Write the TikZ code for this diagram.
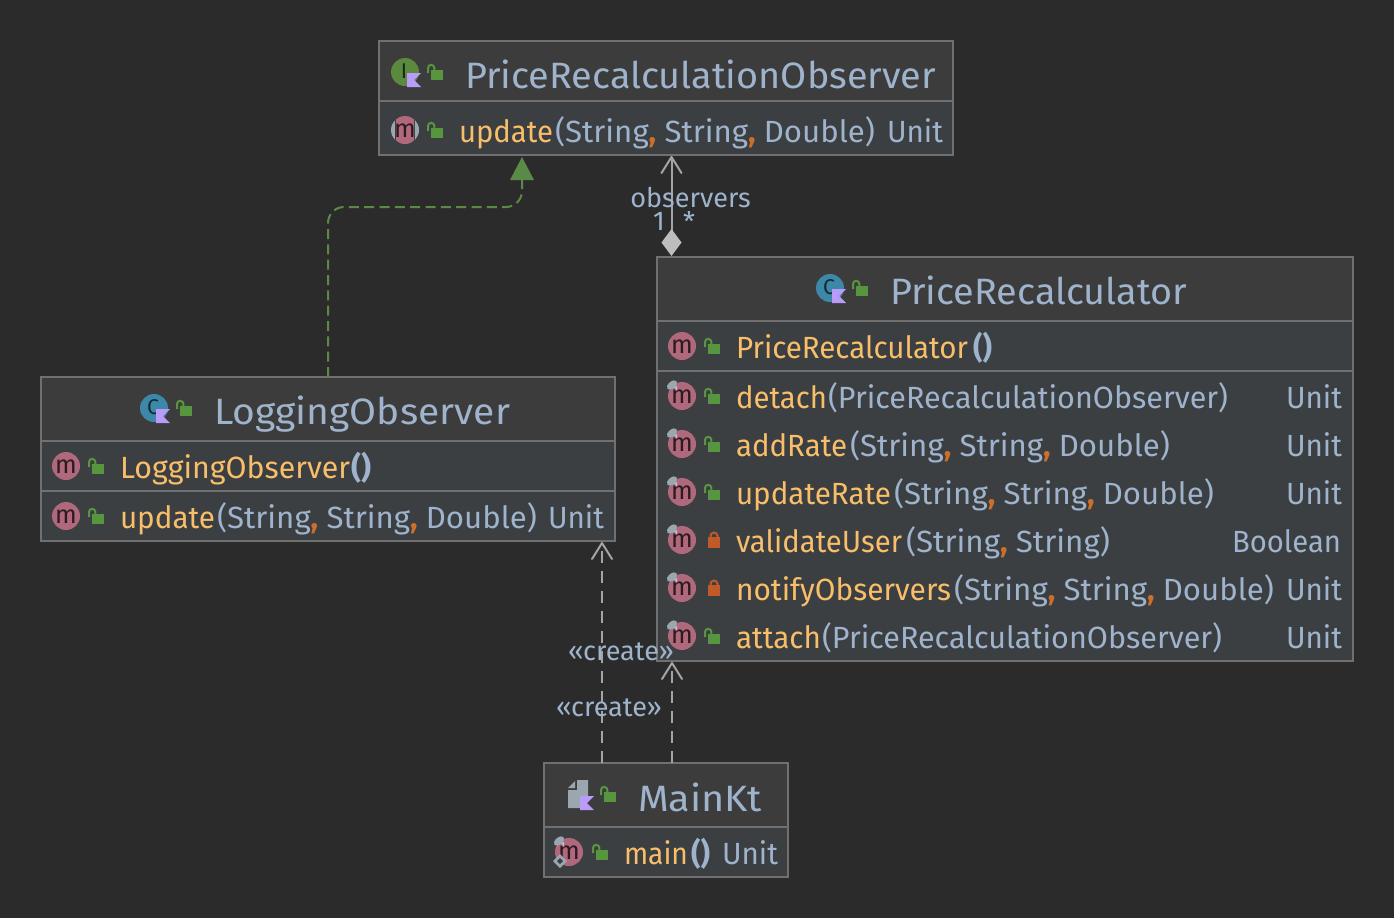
\documentclass[tikz,border=0pt]{standalone}
\usepackage{fontspec}
\usepackage{graphicx}
\setmainfont{Fira Sans}
\usetikzlibrary{arrows.meta,calc}
\definecolor{bg}{HTML}{2B2B2B}
\definecolor{hdr}{HTML}{3C3C3C}
\definecolor{rowbg}{HTML}{3B3F42}
\definecolor{edge}{HTML}{707070}
\definecolor{nm}{HTML}{F8BE6A}
\definecolor{pr}{HTML}{9FB3CC}
\definecolor{cmc}{HTML}{CC6F2C}
\definecolor{conn}{HTML}{A4A4A4}
\definecolor{gr}{HTML}{5B8A48}
\definecolor{pinkm}{HTML}{B0687C}
\definecolor{pingray}{HTML}{9AA7B0}
\definecolor{flag}{HTML}{B99BF8}
\definecolor{lockg}{HTML}{57963F}
\definecolor{locko}{HTML}{C05A28}
\definecolor{clsb}{HTML}{3D88A8}
\definecolor{ifg}{HTML}{5B8A3F}
\definecolor{diam}{HTML}{BDBDBD}
\tikzset{
  x=0.75pt,y=-0.75pt,
  umlbox/.style={draw=edge,line width=1pt,inner sep=0pt,outer sep=0pt},
  sepline/.style={draw=edge,line width=1.5pt},
  tx/.style={anchor=base west,inner sep=0pt,outer sep=0pt},
  conline/.style={draw=conn,line width=1.5pt},
  dashdep/.style={conline,dash pattern=on 9pt off 6pt},
  openarrow/.style={-{Straight Barb[length=12pt,width=15pt,line width=1.5pt,round=false]}},
  lbl/.style={inner sep=0pt,outer sep=0pt,anchor=base,text=pr,font=\fontsize{20.3pt}{21pt}\selectfont},
  mletter/.style={inner sep=0pt,outer sep=0pt,text=black!75!pinkm,font=\fontsize{19pt}{20pt}\selectfont},
  pics/mc/.style={code={\fill[pinkm] (0,0) circle (14);\node[mletter] (-l) at (0,0.5) {m};}},
  pics/mabs/.style={code={
    \fill[pingray] (0,0) circle (14);
    \fill[rowbg] (-10,-15) rectangle (10,15);
    \begin{scope}\clip (-9,-15) rectangle (9,15);\fill[pinkm] (0,0) circle (14);\end{scope}
    \node[mletter] (-l) at (0,0.5) {m};}},
  pics/pinm/.style={code={
    \fill[pingray,rotate around={40:(-10,-11)}] (-10,-11) ellipse (6 and 3.5);
    \fill[pingray!70!white] (-8,-9) -- (-5,-10) -- (-5,-5) -- cycle;}},
  pics/lockopen/.style={code={
    \fill[lockg] (-5,-2) rectangle (7,8);
    \draw[lockg,line width=1.5pt] (-8,1) -- (-8,-4) arc (180:360:3.2) -- (-1.6,-2);}},
  pics/lockshut/.style={code={
    \fill[locko] (-5,-3) rectangle (7,8);
    \draw[locko,line width=1.5pt] (-2.5,-3) -- (-2.5,-4) arc (180:360:3.5) -- (4.5,-3);}},
  pics/cicon/.style args={#1/#2}{code={
    \fill[#1] (0,0) circle (14);
    \node[inner sep=0pt,outer sep=0pt,text=black!70!#1,font=\fontsize{16pt}{17pt}\selectfont] (-l) at (-1,-1) {#2};
    \fill[flag] (2,1) -- (16,1) -- (9,8) -- (16,15) -- (2,15) -- cycle;}},
}
\newcommand\fitw[2]{\resizebox{#1}{\height}{#2}}
\newcommand\txt[6]{\node[tx] (#1) at ({#2-1},#4) {\fitw{\fpeval{(#3-#2+2)*0.75}pt}{\fontsize{#5pt}{#5pt}\selectfont #6}};}
\newcommand\cm{{\bfseries\color{cmc},}}
\newcommand\ttl[5]{\txt{#1}{#2}{#3}{#4}{27.5}{\color{pr}#5}}
\newcommand\mname[5]{\txt{#1}{#2}{#3}{#4}{23}{\color{nm}#5}}
\newcommand\mpar[5]{\txt{#1}{#2}{#3}{#4}{23}{\color{pr}#5}}
\newcommand\threep{(String\cm\ String\cm\ Double)}
\newcommand\cbox[6]{%
  \fill[rowbg] (#2,#3) rectangle (#4,#5);
  \fill[hdr] (#2,#3) rectangle (#4,#6);
  \node[umlbox,minimum width={(#4-#2)*0.75pt},minimum height={(#5-#3)*0.75pt}] (#1) at ({(#2+#4)/2},{(#3+#5)/2}) {};
}
\newcommand\sepl[3]{\draw[sepline] (#1,#3) -- (#2,#3);}
\begin{document}
\begin{tikzpicture}
\useasboundingbox (0,0) rectangle (1394,918);
\fill[bg] (0,0) rectangle (1394,918);

% boxes
\cbox{obs}{379}{41}{953}{155}{101}
\sepl{380}{952}{101}
\cbox{rec}{657}{257}{1353}{661}{321}
\sepl{658}{1352}{321}\sepl{658}{1352}{371}
\cbox{log}{41}{377}{615}{541}{441}
\sepl{42}{614}{441}\sepl{42}{614}{491}
\cbox{mkt}{544}{763}{788}{877}{827}
\sepl{545}{787}{827}

% connectors
\draw[draw=gr,line width=1.5pt,dash pattern=on 7.5pt off 4pt,rounded corners=12pt]
  (log.north) |- ($(obs.south)+(-144,52)$) -- ($(obs.south)+(-144,25)$);
\fill[gr] ($(obs.south)+(-144,2)$) -- ($(obs.south)+(-132,25)$) -- ($(obs.south)+(-156,25)$) -- cycle;
\draw[conline,openarrow] ($(rec.north west)+(14.5,-12)$) -- ($(obs.south)+(5.5,1)$);
\fill[diam] ($(rec.north west)+(14.5,-28)$) -- ($(rec.north west)+(24.5,-14.5)$) -- ($(rec.north west)+(14.5,-1)$) -- ($(rec.north west)+(4.5,-14.5)$) -- cycle;
\draw[dashdep,openarrow] ($(mkt.north)+(-64,0)$) -- ($(log.south east)+(-13,1)$);
\draw[dashdep,openarrow] ($(mkt.north)+(6,0)$) -- ($(rec.south west)+(15,1)$);

% connector labels
\node[lbl] (lobs) at (690.5,207) {observers};
\node[lbl] (lone) at (659,230) {1};
\node[lbl] (lstar) at (689,231) {*};
\node[lbl] (lc1) at (621,660) {«create»};
\node[lbl] (lc2) at (609,716) {«create»};

% PriceRecalculationObserver
\pic (iobs) at (405,72) {cicon={ifg/I}};
\pic (kobs) at (436,72) {lockopen};
\ttl{tobs}{466}{935}{88}{PriceRecalculationObserver}
\pic (mobs) at (405,130) {mabs};
\pic (kobs2) at (436,130) {lockopen};
\mname{nobs}{460}{552}{142}{update}
\mpar{pobs}{556}{874}{142}{\threep}
\mpar{robs}{888}{942}{142}{Unit}

% PriceRecalculator
\pic (irec) at (830,288) {cicon={clsb/C}};
\pic (krec) at (861,288) {lockopen};
\ttl{trec}{891}{1186}{304}{PriceRecalculator}

\pic (m1) at (682,346) {mc};
\pic (k1) at (713,346) {lockopen};
\mname{n1}{737}{967}{358}{PriceRecalculator}
\mpar{p1}{974}{991}{358}{\bfseries ()}

\pic (m2) at (682,396) {mc};\pic (s2) at (682,396) {pinm};
\pic (k2) at (713,396) {lockopen};
\mname{n2}{737}{826}{408}{detach}
\mpar{p2}{829}{1227}{408}{(PriceRecalculationObserver)}
\mpar{r2}{1287}{1341}{408}{Unit}

\pic (m3) at (682,444) {mc};\pic (s3) at (682,444) {pinm};
\pic (k3) at (713,444) {lockopen};
\mname{n3}{737}{846}{456}{addRate}
\mpar{p3}{851}{1169}{456}{\threep}
\mpar{r3}{1287}{1341}{456}{Unit}

\pic (m4) at (682,492) {mc};\pic (s4) at (682,492) {pinm};
\pic (k4) at (713,492) {lockopen};
\mname{n4}{737}{890}{504}{updateRate}
\mpar{p4}{895}{1213}{504}{\threep}
\mpar{r4}{1287}{1341}{504}{Unit}

\pic (m5) at (682,540) {mc};\pic (s5) at (682,540) {pinm};
\pic (k5) at (713,540) {lockshut};
\mname{n5}{737}{901}{552}{validateUser}
\mpar{p5}{907}{1109}{552}{(String\cm\ String)}
\mpar{r5}{1233}{1340}{552}{Boolean}

\pic (m6) at (682,588) {mc};\pic (s6) at (682,588) {pinm};
\pic (k6) at (713,588) {lockshut};
\mname{n6}{737}{950}{600}{notifyObservers}
\mpar{p6}{955}{1273}{600}{\threep}
\mpar{r6}{1287}{1341}{600}{Unit}

\pic (m7) at (682,636) {mc};\pic (s7) at (682,636) {pinm};
\pic (k7) at (713,636) {lockopen};
\mname{n7}{737}{820}{648}{attach}
\mpar{p7}{823}{1221}{648}{(PriceRecalculationObserver)}
\mpar{r7}{1287}{1341}{648}{Unit}

% LoggingObserver
\pic (ilog) at (154,408) {cicon={clsb/C}};
\pic (klog) at (185,408) {lockopen};
\ttl{tlog}{215}{509}{424}{LoggingObserver}
\pic (m8) at (66,466) {mc};
\pic (k8) at (97,466) {lockopen};
\mname{n8}{121}{349}{478}{LoggingObserver}
\mpar{p8}{352}{370}{478}{\bfseries ()}
\pic (m9) at (66,516) {mc};
\pic (k9) at (97,516) {lockopen};
\mname{n9}{121}{214}{528}{update}
\mpar{p9}{218}{536}{528}{\threep}
\mpar{r9}{549}{603}{528}{Unit}

% MainKt
\fill[pingray] (568,788) -- (575,781) -- (575,788) -- cycle;
\fill[pingray] (577,780) -- (588,780) -- (588,798) -- (580,798) -- (580,808) -- (568,808) -- (568,790) -- (577,790) -- cycle;
\fill[flag] (580,796) -- (594,796) -- (587,803) -- (594,810) -- (580,810) -- cycle;
\pic (kmk) at (609,794) {lockopen};
\ttl{tmk}{639}{761}{811}{MainKt}
\pic (m10) at (569,852) {mc};\pic (s10) at (569,852) {pinm};
\fill[pingray] (560,854) -- (567,861) -- (560,868) -- (553,861) -- cycle;
\fill[rowbg] (560,858) -- (563,861) -- (560,864) -- (557,861) -- cycle;
\pic (k10) at (601,852) {lockopen};
\mname{n10}{625}{687}{864}{main}
\mpar{p10}{692}{709}{864}{\bfseries ()}
\mpar{r10}{723}{777}{864}{Unit}
\end{tikzpicture}
\end{document}
